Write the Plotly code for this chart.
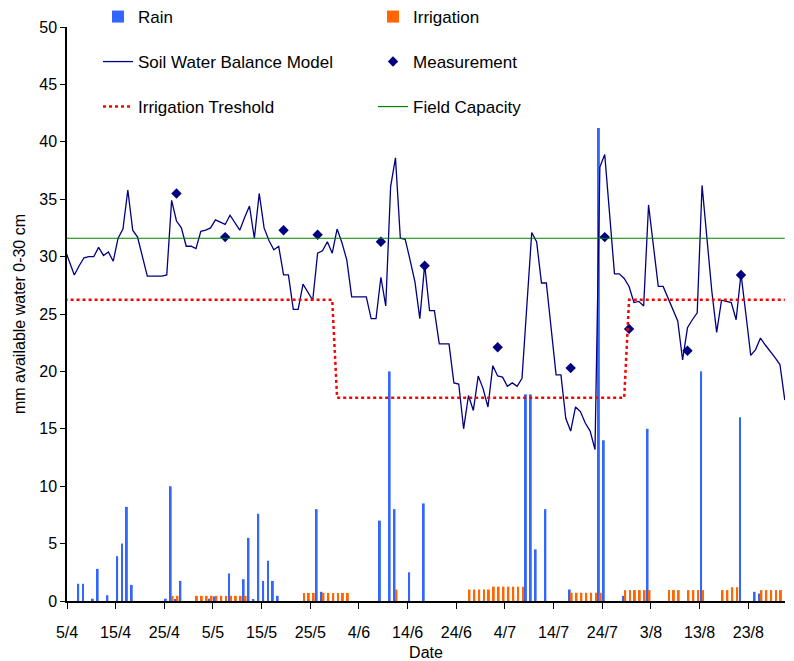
import pandas as pd
import plotly.graph_objects as go

# ---------------- data ----------------
# daily soil water balance model, 4/4 .. 30/8
model_start = "2009-04-04"
model_end = "2009-08-30"
model_mm = [
    30.7,
    29.5, 28.4, 29.2, 29.9, 30.0, 30.0, 30.8, 30.1, 30.4, 29.6,
    31.6, 32.4, 35.8, 32.3, 31.7, 30.0, 28.3, 28.3, 28.3, 28.3,
    28.4, 34.9, 33.1, 32.5, 30.9, 30.9, 30.7, 32.2, 32.3, 32.5,
    33.2, 33.0, 32.8, 33.6, 33.0, 32.3, 33.4, 34.4, 31.6, 35.5,
    32.5, 31.4, 30.6, 30.9, 28.4, 28.4, 25.4, 25.4, 27.6, 26.9,
    26.2, 30.3, 30.5, 31.3, 30.3, 32.4, 31.2, 29.7, 26.5, 26.5,
    26.5, 26.5, 24.6, 24.6, 28.2, 25.7, 36.1, 38.6, 31.6, 31.5,
    29.7, 27.8, 24.6, 29.3, 25.3, 25.3, 22.4, 22.4, 22.4, 19.0,
    18.9, 15.0, 17.9, 16.6, 19.6, 18.5, 16.9, 20.5, 19.6, 19.5,
    18.7, 19.0, 18.7, 19.4, 25.8, 32.1, 31.3, 27.7, 27.7, 23.7,
    19.7, 19.7, 15.9, 14.8, 16.9, 16.5, 15.5, 14.8, 13.2, 37.8,
    38.9, 33.7, 28.5, 28.5, 28.1, 27.4, 26.0, 26.1, 25.7, 34.5,
    31.0, 27.4, 27.4, 26.4, 25.4, 24.4, 21.0, 23.8, 24.5, 25.1,
    36.2, 31.6, 27.0, 23.4, 26.2, 26.1, 26.0, 24.5, 28.5, 25.0,
    21.4, 21.9, 22.9, 22.3, 21.8, 21.2, 20.6, 17.5,
]
threshold_mm = [26.25] * 56 + [17.7] * 60 + [26.25] * 33
field_capacity_mm = [31.6] * 149

meas_dates = ["2009-04-27", "2009-05-07", "2009-05-19", "2009-05-26", "2009-06-08",
              "2009-06-17", "2009-07-02", "2009-07-17", "2009-07-24", "2009-07-29",
              "2009-08-10", "2009-08-21"]
meas_mm = [35.5, 31.7, 32.3, 31.9, 31.3, 29.2, 22.1, 20.3, 31.7, 23.7, 21.8, 28.4]

rain_dates = ["2009-04-07", "2009-04-08", "2009-04-10", "2009-04-11", "2009-04-13",
              "2009-04-15", "2009-04-16", "2009-04-17", "2009-04-18", "2009-04-25",
              "2009-04-26", "2009-04-27", "2009-04-28", "2009-05-04", "2009-05-05",
              "2009-05-08", "2009-05-11", "2009-05-12", "2009-05-13", "2009-05-14",
              "2009-05-15", "2009-05-16", "2009-05-17", "2009-05-18", "2009-05-26",
              "2009-05-27", "2009-06-08", "2009-06-10", "2009-06-11", "2009-06-14",
              "2009-06-17", "2009-07-08", "2009-07-09", "2009-07-10", "2009-07-12",
              "2009-07-17", "2009-07-23", "2009-07-24", "2009-07-28", "2009-08-02",
              "2009-08-13", "2009-08-21", "2009-08-24", "2009-08-25"]
rain_mm = [1.5, 1.5, 0.2, 2.8, 0.5,
           3.9, 5.0, 8.2, 1.4, 0.2,
           10.0, 0.1, 1.75, 0.2, 0.4,
           2.4, 1.9, 5.5, 0.1, 7.6,
           1.75, 3.5, 1.75, 0.45, 8.0,
           0.8, 7.0, 20.0, 8.0, 2.5,
           8.5, 18.0, 18.0, 4.5, 8.0,
           1.0, 41.2, 14.0, 0.45, 15.0,
           20.0, 16.0, 0.8, 0.65]

irr_dates = ["2009-04-26", "2009-04-27",
             "2009-05-01", "2009-05-02", "2009-05-03", "2009-05-04", "2009-05-05", "2009-05-06",
             "2009-05-07", "2009-05-08", "2009-05-09", "2009-05-10", "2009-05-11",
             "2009-05-23", "2009-05-24", "2009-05-25",
             "2009-05-27", "2009-05-28", "2009-05-29", "2009-05-30", "2009-05-31", "2009-06-01",
             "2009-06-11",
             "2009-06-26", "2009-06-27", "2009-06-28", "2009-06-29", "2009-06-30",
             "2009-07-01", "2009-07-02", "2009-07-03", "2009-07-04", "2009-07-05", "2009-07-06",
             "2009-07-07",
             "2009-07-17", "2009-07-18", "2009-07-19", "2009-07-20", "2009-07-21", "2009-07-22",
             "2009-07-23",
             "2009-07-28", "2009-07-29", "2009-07-30", "2009-07-31", "2009-08-01", "2009-08-02",
             "2009-08-06", "2009-08-07", "2009-08-08",
             "2009-08-10", "2009-08-11", "2009-08-12", "2009-08-13",
             "2009-08-17", "2009-08-18", "2009-08-19", "2009-08-20",
             "2009-08-25", "2009-08-26", "2009-08-27", "2009-08-28", "2009-08-29"]
irr_mm = [0.45, 0.45,
          0.45, 0.45, 0.45, 0.45, 0.45, 0.45,
          0.45, 0.45, 0.45, 0.45, 0.45,
          0.7, 0.7, 0.7,
          0.7, 0.7, 0.7, 0.7, 0.7, 0.7,
          1.0,
          1.0, 1.0, 1.0, 1.0, 1.0,
          1.25, 1.25, 1.25, 1.25, 1.25, 1.25,
          1.25,
          0.72, 0.72, 0.72, 0.72, 0.72, 0.72,
          0.72,
          0.95, 0.95, 0.95, 0.95, 0.95, 0.95,
          0.95, 0.95, 0.95,
          0.95, 0.95, 0.95, 0.95,
          0.95, 0.95, 1.2, 1.2,
          0.95, 0.95, 0.95, 0.95, 0.95]

tick_dates = ["2009-04-05", "2009-04-15", "2009-04-25", "2009-05-05", "2009-05-15",
              "2009-05-25", "2009-06-04", "2009-06-14", "2009-06-24", "2009-07-04",
              "2009-07-14", "2009-07-24", "2009-08-03", "2009-08-13", "2009-08-23"]
tick_labels = ["5/4", "15/4", "25/4", "5/5", "15/5", "25/5", "4/6", "14/6", "24/6",
               "4/7", "14/7", "24/7", "3/8", "13/8", "23/8"]

# ---------------- figure ----------------
noon = pd.Timedelta(hours=12)  # values plotted in the middle of each day
model_x = pd.date_range(model_start, model_end, freq="D") + noon
meas_x = pd.to_datetime(meas_dates) + noon
rain_x = pd.to_datetime(rain_dates) + noon
irr_x = pd.to_datetime(irr_dates) + noon

FONT = "Liberation Sans, Arial, sans-serif"

fig = go.Figure()
fig.add_trace(go.Bar(x=rain_x, y=rain_mm, name="Rain", marker_color="#3366FF",
                     marker_line_width=0, legend="legend"))
fig.add_trace(go.Bar(x=irr_x, y=irr_mm, name="Irrigation", marker_color="#FF6600",
                     marker_line_width=0, legend="legend"))
fig.add_trace(go.Scatter(x=model_x, y=model_mm, mode="lines", name="Soil Water Balance Model",
                         line=dict(color="#000080", width=1.3), legend="legend2"))
fig.add_trace(go.Scatter(x=meas_x, y=meas_mm, mode="markers", name="Measurement",
                         marker=dict(symbol="diamond", size=8, color="#000080"),
                         legend="legend2"))
fig.add_trace(go.Scatter(x=model_x, y=threshold_mm, mode="lines", name="Irrigation Treshold",
                         line=dict(color="#FF0000", width=2.5, dash="dot"), legend="legend3"))
fig.add_trace(go.Scatter(x=model_x, y=field_capacity_mm, mode="lines", name="Field Capacity",
                         line=dict(color="#008000", width=1.2), legend="legend3"))

leg = dict(orientation="h", xanchor="left", yanchor="middle", x=0.0432,
           entrywidth=230, entrywidthmode="pixels", bgcolor="rgba(0,0,0,0)",
           font=dict(family=FONT, size=17, color="black"), borderwidth=0)

# the page body adds an 8 px offset, so the figure is 8 px smaller than the window
fig.update_layout(
    width=786, height=653,
    margin=dict(l=59, r=9, t=19, b=60, autoexpand=False),
    paper_bgcolor="white", plot_bgcolor="white",
    font=dict(family=FONT, size=16, color="black"),
    barmode="group", bargap=0.2, bargroupgap=0,
    legend=dict(leg, y=1.0174),
    legend2=dict(leg, y=0.939),
    legend3=dict(leg, y=0.8606),
    xaxis=dict(type="date", range=["2009-04-05", "2009-08-30 13:00"],
               tickvals=pd.to_datetime(tick_dates), ticktext=tick_labels,
               ticks="outside", ticklen=6, tickcolor="black", tickwidth=1,
               showline=True, linecolor="black", linewidth=1.5, showgrid=False,
               zeroline=False, ticklabelstandoff=10, automargin=False,
               title=dict(text="Date", standoff=19, font=dict(size=16))),
    yaxis=dict(range=[0, 50], dtick=5, ticks="outside", ticklen=5, tickcolor="black",
               showline=True, linecolor="black", linewidth=1.5, showgrid=False,
               zeroline=False, automargin=False,
               title=dict(text="mm available water 0-30 cm", standoff=10, font=dict(size=16))),
)

fig.write_html("out.html")
